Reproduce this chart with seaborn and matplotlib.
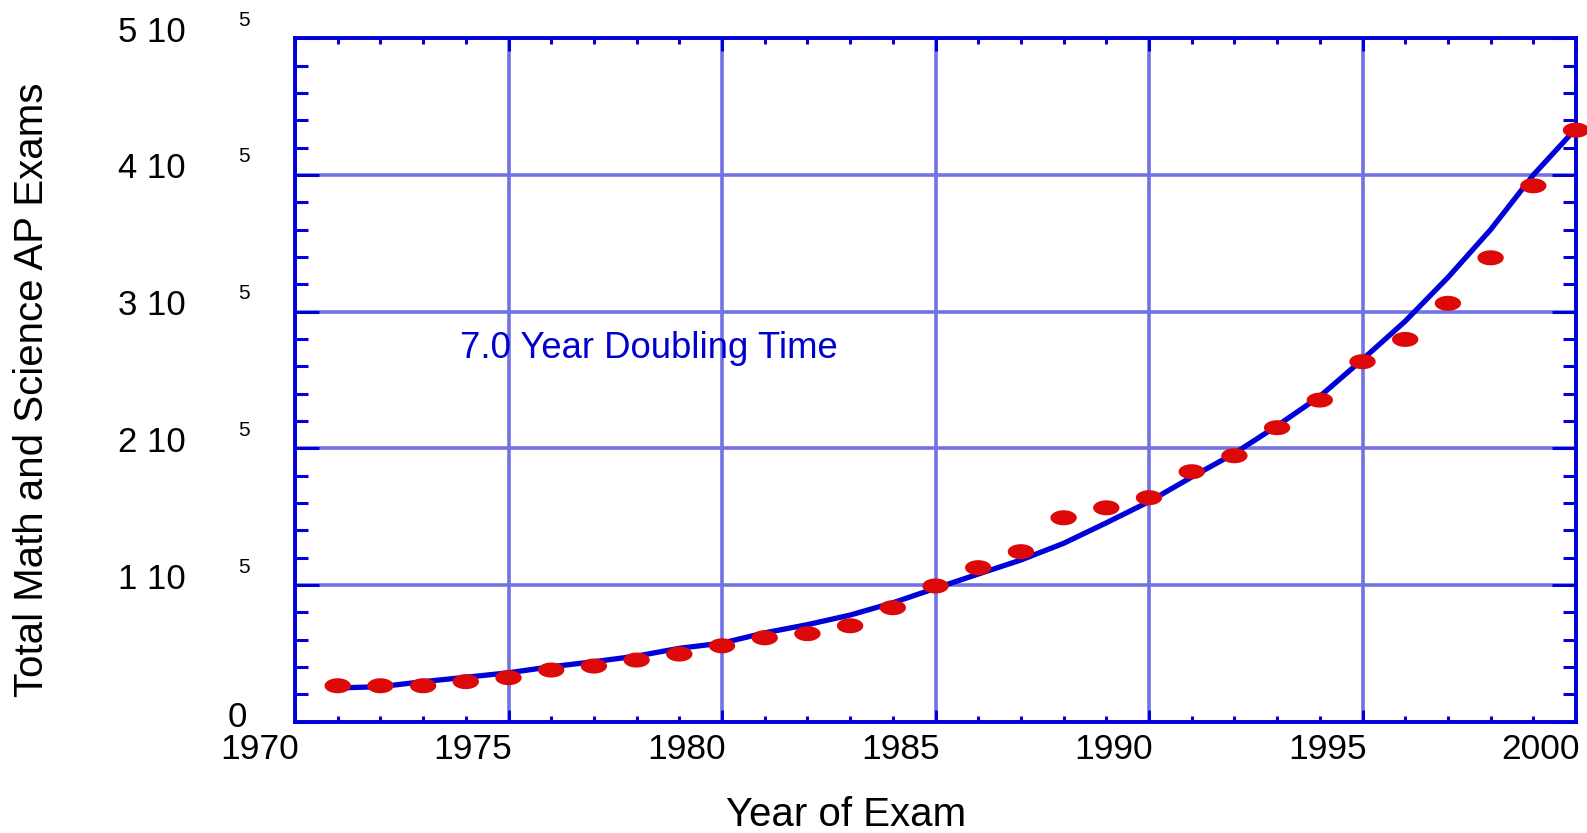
import numpy as np
import pandas as pd
import matplotlib
matplotlib.use("Agg")
import matplotlib.pyplot as plt
import seaborn as sns
from matplotlib.path import Path
from matplotlib.markers import MarkerStyle
from matplotlib.transforms import offset_copy
from matplotlib.ticker import MultipleLocator

# ---- data ----
years = list(range(1971, 2001))
exams = [26300, 26300, 26300, 29300, 32200, 37800, 40700, 45100, 49500, 55500,
         61400, 64400, 70200, 83400, 99300, 112700, 124400, 149200, 156500, 163900,
         182900, 194600, 215100, 235300, 263400, 279700, 306100, 339400, 392100, 432800]

fit_years = list(range(1971, 2001))
fit_values = [24700, 25600, 29300, 32500, 35800, 40200, 43900, 48000, 53700, 57500,
              65000, 71000, 78000, 87000, 97600, 108000, 118300, 130500, 145500, 161000,
              179000, 196300, 216500, 238000, 265000, 293000, 325000, 360000, 400000, 434000]

xticks = [1970, 1975, 1980, 1985, 1990, 1995, 2000]
yticks = [0, 100000, 200000, 300000, 400000, 500000]
ytick_main = ["0", "1 10", "2 10", "3 10", "4 10", "5 10"]
ytick_exp = ["", "5", "5", "5", "5", "5"]

annotation = "7.0 Year Doubling Time"
xlabel = "Year of Exam"
ylabel = "Total Math and Science AP Exams"

# ---- style ----
sns.set_style("white")
plt.rcParams['font.family'] = ['Liberation Sans', 'DejaVu Sans']
plt.rcParams['text.color'] = 'black'

W, H = 1587, 833
fig = plt.figure(figsize=(W / 100, H / 100), dpi=100)
L, R, B, T = 295, 1576, 721.7, 38.3
ax = fig.add_axes([L / W, 1 - B / H, (R - L) / W, (B - T) / H])

blue = "#0000d8"
grid_blue = "#7272e4"
red = "#dd0808"

df_pts = pd.DataFrame({"year": years, "exams": exams})
df_fit = pd.DataFrame({"year": fit_years, "exams": fit_values})

sns.lineplot(data=df_fit, x="year", y="exams", ax=ax, color=blue, lw=3.8,
             sort=False, estimator=None, zorder=4)

t = np.linspace(0, 2 * np.pi, 60)
ell = Path(np.column_stack([np.cos(t), 0.57 * np.sin(t)]), closed=True)
sns.scatterplot(data=df_pts, x="year", y="exams", ax=ax, marker=MarkerStyle(ell),
                s=360, color=red, edgecolor="none", linewidth=0, zorder=6,
                clip_on=False)

ax.set_xlim(1970, 2000)
ax.set_ylim(0, 500000)
ax.set_xlabel("")
ax.set_ylabel("")

# grid
ax.set_xticks(xticks)
ax.set_yticks(yticks)
ax.xaxis.set_minor_locator(MultipleLocator(1))
ax.yaxis.set_minor_locator(MultipleLocator(20000))
ax.grid(True, which="major", color=grid_blue, lw=2.6, zorder=1)
ax.set_axisbelow(True)

for s in ax.spines.values():
    s.set_color(blue)
    s.set_linewidth(2.8)
    s.set_visible(True)

ax.tick_params(axis="x", which="major", direction="in", length=9, width=2.2,
               color=blue, top=True, bottom=True, labelsize=25.5, pad=8,
               labelcolor="black")
ax.tick_params(axis="x", which="minor", direction="in", length=4.5, width=2.2,
               color=blue, top=True, bottom=True)
ax.tick_params(axis="y", which="major", direction="in", length=17, width=2.2,
               color=blue, left=True, right=True, labelleft=False)
ax.tick_params(axis="y", which="minor", direction="in", length=9.5, width=2.2,
               color=blue, left=True, right=True)

# x tick labels: right-aligned at tick
ax.set_xticklabels([str(v) for v in xticks])
shift = matplotlib.transforms.ScaledTranslation(4 / 100, 0, fig.dpi_scale_trans)
for lab in ax.get_xticklabels():
    lab.set_horizontalalignment("right")
    lab.set_transform(lab.get_transform() + shift)

# y tick labels drawn as text "N 10" plus raised exponent
ytr = ax.get_yaxis_transform()
for v, m, e in zip(yticks, ytick_main, ytick_exp):
    if e == "":
        ax.text(0, v, m, transform=offset_copy(ytr, fig=fig, x=-48, y=4, units="dots"),
                ha="right", va="center", fontsize=25, color="black")
    else:
        ax.text(0, v, m, transform=offset_copy(ytr, fig=fig, x=-109, y=6, units="dots"),
                ha="right", va="center", fontsize=25, color="black")
        ax.text(0, v, e, transform=offset_copy(ytr, fig=fig, x=-45, y=18, units="dots"),
                ha="right", va="center", fontsize=15, color="black")

ax.text(1973.86, 266000, annotation, ha="left", va="baseline", fontsize=26.3,
        color="#0000cc", zorder=7)

fig.text(846 / W, 1 - 826 / H, xlabel, ha="center", va="baseline", fontsize=29,
         color="black")
fig.text(32 / W, 1 - 390 / H, ylabel, ha="center", va="center", rotation=90,
         fontsize=29, color="black")

fig.savefig("out.png", dpi=100)
